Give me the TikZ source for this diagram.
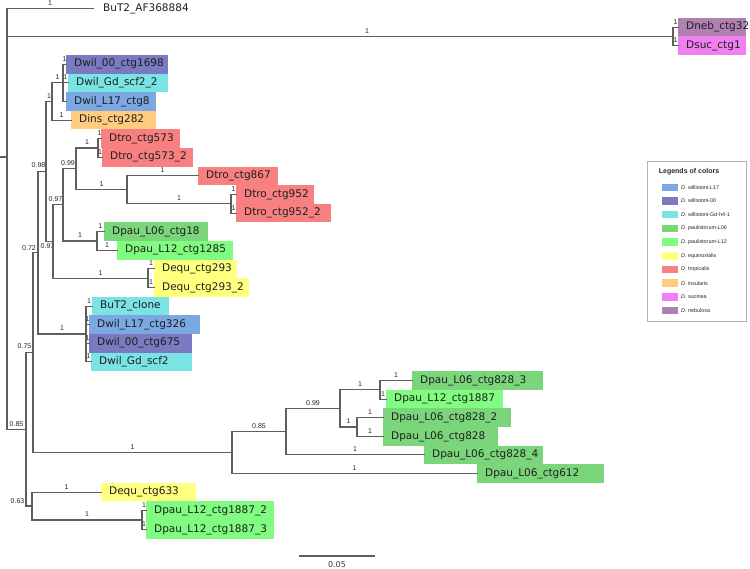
\documentclass[tikz,border=0pt]{standalone}
\usepackage{fontspec}
\setmainfont{DejaVu Sans}
\newfontfamily\labfont{Liberation Sans}
\definecolor{lnc}{RGB}{95,95,95}
\definecolor{cLse}{RGB}{123,167,227}
\definecolor{cOO}{RGB}{123,121,192}
\definecolor{cGd}{RGB}{122,228,228}
\definecolor{cLzs}{RGB}{123,214,123}
\definecolor{cLot}{RGB}{128,252,128}
\definecolor{cEqu}{RGB}{255,255,128}
\definecolor{cTro}{RGB}{248,128,128}
\definecolor{cIns}{RGB}{255,204,128}
\definecolor{cSuc}{RGB}{240,128,240}
\definecolor{cNeb}{RGB}{176,128,176}
\newcommand\lbx[2]{\makebox[#1pt][l]{\hspace{8pt}#2}}
\newcommand\brl[3]{\draw[br] (#1 |- #2) -- node[bl]{#3} (#2);}
\newcommand\brn[2]{\draw[br] (#1 |- #2) -- (#2);}
\newcommand\vtl[3]{\draw[br] (#1 |- #2) -- (#1 |- #3);}
\begin{document}
\begin{tikzpicture}[x=1pt,y=-1pt,
  br/.style={draw=lnc, line width=1.1pt, line cap=rect},
  bl/.style={above=2pt, inner sep=0.5pt, font=\labfont\fontsize{7}{8}\selectfont, text=black!85},
  lb/.style={inner sep=0pt, font=\labfont\fontsize{7}{8}\selectfont, text=black!85},
  leaf/.style={anchor=west, inner sep=0pt, minimum height=18.6pt, text height=7.7pt, text depth=2.3pt, font=\fontsize{10.5}{12}\selectfont, text=black!88},
  sw/.style={minimum width=16pt, minimum height=7.5pt, inner sep=0pt},
  lt/.style={anchor=west, inner sep=0pt, font=\labfont\fontsize{5.4}{6}\selectfont, text=black!85}]
\useasboundingbox (0,0) rectangle (750,569);

% leaves
\node[leaf] (t0) at (93,8.5) {\hspace{10pt}BuT2\_AF368884};
\node[leaf, fill=cNeb] (t1) at (678,27.1) {\lbx{68}{Dneb\_ctg32}};
\node[leaf, fill=cSuc] (t2) at (678,45.7) {\lbx{68}{Dsuc\_ctg1}};
\node[leaf, fill=cOO] (t3) at (66,64.3) {\lbx{102}{Dwil\_00\_ctg1698}};
\node[leaf, fill=cGd] (t4) at (68,82.9) {\lbx{100}{Dwil\_Gd\_scf2\_2}};
\node[leaf, fill=cLse] (t5) at (66,101.5) {\lbx{90}{Dwil\_L17\_ctg8}};
\node[leaf, fill=cIns] (t6) at (71,120.1) {\lbx{85}{Dins\_ctg282}};
\node[leaf, fill=cTro] (t7) at (101,138.7) {\lbx{79}{Dtro\_ctg573}};
\node[leaf, fill=cTro] (t8) at (102,157.3) {\lbx{91}{Dtro\_ctg573\_2}};
\node[leaf, fill=cTro] (t9) at (198,175.9) {\lbx{80}{Dtro\_ctg867}};
\node[leaf, fill=cTro] (t10) at (236,194.5) {\lbx{78}{Dtro\_ctg952}};
\node[leaf, fill=cTro] (t11) at (236,213.1) {\lbx{95}{Dtro\_ctg952\_2}};
\node[leaf, fill=cLzs] (t12) at (104,231.7) {\lbx{104}{Dpau\_L06\_ctg18}};
\node[leaf, fill=cLot] (t13) at (117,250.3) {\lbx{116}{Dpau\_L12\_ctg1285}};
\node[leaf, fill=cEqu] (t14) at (154,268.9) {\lbx{83}{Dequ\_ctg293}};
\node[leaf, fill=cEqu] (t15) at (154,287.5) {\lbx{95}{Dequ\_ctg293\_2}};
\node[leaf, fill=cGd] (t16) at (92,306.1) {\lbx{77}{BuT2\_clone}};
\node[leaf, fill=cLse] (t17) at (89,324.7) {\lbx{111}{Dwil\_L17\_ctg326}};
\node[leaf, fill=cOO] (t18) at (89,343.3) {\lbx{103}{Dwil\_00\_ctg675}};
\node[leaf, fill=cGd] (t19) at (91,361.9) {\lbx{101}{Dwil\_Gd\_scf2}};
\node[leaf, fill=cLzs] (t20) at (412,380.5) {\lbx{131}{Dpau\_L06\_ctg828\_3}};
\node[leaf, fill=cLot] (t21) at (386,399.1) {\lbx{117}{Dpau\_L12\_ctg1887}};
\node[leaf, fill=cLzs] (t22) at (383,417.7) {\lbx{128}{Dpau\_L06\_ctg828\_2}};
\node[leaf, fill=cLzs] (t23) at (383,436.3) {\lbx{115}{Dpau\_L06\_ctg828}};
\node[leaf, fill=cLzs] (t24) at (424,454.9) {\lbx{119}{Dpau\_L06\_ctg828\_4}};
\node[leaf, fill=cLzs] (t25) at (477,473.5) {\lbx{127}{Dpau\_L06\_ctg612}};
\node[leaf, fill=cEqu] (t26) at (101,492.1) {\lbx{95}{Dequ\_ctg633}};
\node[leaf, fill=cLot] (t27) at (146,510.7) {\lbx{128}{Dpau\_L12\_ctg1887\_2}};
\node[leaf, fill=cLot] (t28) at (146,529.3) {\lbx{128}{Dpau\_L12\_ctg1887\_3}};

% internal nodes
\coordinate (R0) at (0,157);
\coordinate (R) at (7,157);
\coordinate (nNS) at (673,36.4);
\coordinate (n085) at (26,429.4);
\coordinate (n075) at (33,352.7);
\coordinate (n063) at (32,506);
\coordinate (n072) at (38,252.8);
\coordinate (nP1) at (232,452.6);
\coordinate (n098) at (46,171.55);
\coordinate (nBuC) at (86,334);
\coordinate (nDwD) at (52,101.5);
\coordinate (n097b) at (53,241.6);
\coordinate (nDwil) at (63,82.9);
\coordinate (nE293) at (148,278.2);
\coordinate (n097a) at (63,204.95);
\coordinate (n099) at (76,168.9);
\coordinate (nP18) at (97,241);
\coordinate (nT573) at (98,148);
\coordinate (nT867) at (127,189.85);
\coordinate (nT952) at (231,203.8);
\coordinate (nP2) at (286,431.65);
\coordinate (nP3) at (340,408.4);
\coordinate (nP4) at (380,389.8);
\coordinate (nP5) at (357,427);
\coordinate (nP1887) at (142,520);

% root
\draw[br] (R0) -- (R);
\vtl{R}{t0.west}{n085}
\brl{R}{t0.west}{1}
\brn{R}{nNS}
\node[lb] at (367,31) {1};
\brl{R}{n085}{0.85}
% Dneb / Dsuc
\vtl{nNS}{t1.west}{t2.west}
\brl{nNS}{t1.west}{1}
\brl{nNS}{t2.west}{1}
% 0.85
\vtl{n085}{n075}{n063}
\brn{n085}{n075}
\node[lb] at (24.5,346) {0.75};
\brn{n085}{n063}
\node[lb] at (17.5,501) {0.63};
% 0.75
\vtl{n075}{n072}{nP1}
\brn{n075}{n072}
\node[lb] at (29,248) {0.72};
\brl{n075}{nP1}{1}
% 0.72
\vtl{n072}{n098}{nBuC}
\brn{n072}{n098}
\node[lb] at (38.5,165) {0.98};
\brl{n072}{nBuC}{1}
% 0.98
\vtl{n098}{nDwD}{n097b}
\brl{n098}{nDwD}{1}
\brn{n098}{n097b}
\node[lb] at (47.5,246) {0.97};
% Dwil / Dins
\vtl{nDwD}{nDwil}{t6.west}
\brl{nDwD}{nDwil}{1}
\brl{nDwD}{t6.west}{1}
\vtl{nDwil}{t3.west}{t5.west}
\brl{nDwil}{t3.west}{1}
\brl{nDwil}{t4.west}{1}
\brn{nDwil}{t5.west}
% 0.97 b
\vtl{n097b}{n097a}{nE293}
\brn{n097b}{n097a}
\node[lb] at (55.5,199) {0.97};
\brl{n097b}{nE293}{1}
% 0.97 a
\vtl{n097a}{n099}{nP18}
\brn{n097a}{n099}
\node[lb] at (68,163) {0.99};
\brl{n097a}{nP18}{1}
% Dtro
\vtl{n099}{nT573}{nT867}
\brl{n099}{nT573}{1}
\brl{n099}{nT867}{1}
\vtl{nT573}{t7.west}{t8.west}
\brl{nT573}{t7.west}{1}
\brl{nT573}{t8.west}{1}
\vtl{nT867}{t9.west}{nT952}
\brl{nT867}{t9.west}{1}
\brl{nT867}{nT952}{1}
\vtl{nT952}{t10.west}{t11.west}
\brl{nT952}{t10.west}{1}
\brl{nT952}{t11.west}{1}
% Dpau 18
\vtl{nP18}{t12.west}{t13.west}
\brl{nP18}{t12.west}{1}
\brl{nP18}{t13.west}{1}
% Dequ 293
\vtl{nE293}{t14.west}{t15.west}
\brl{nE293}{t14.west}{1}
\brl{nE293}{t15.west}{1}
% BuT2 clone
\vtl{nBuC}{t16.west}{t19.west}
\brl{nBuC}{t16.west}{1}
\brl{nBuC}{t17.west}{1}
\brl{nBuC}{t18.west}{1}
\brl{nBuC}{t19.west}{1}
% Dpau big clade
\vtl{nP1}{nP2}{t25.west}
\brl{nP1}{nP2}{0.85}
\brl{nP1}{t25.west}{1}
\vtl{nP2}{nP3}{t24.west}
\brl{nP2}{nP3}{0.99}
\brl{nP2}{t24.west}{1}
\vtl{nP3}{nP4}{nP5}
\brl{nP3}{nP4}{1}
\brl{nP3}{nP5}{1}
\vtl{nP4}{t20.west}{t21.west}
\brl{nP4}{t20.west}{1}
\brl{nP4}{t21.west}{1}
\vtl{nP5}{t22.west}{t23.west}
\brl{nP5}{t22.west}{1}
\brl{nP5}{t23.west}{1}
% 0.63
\vtl{n063}{t26.west}{nP1887}
\brl{n063}{t26.west}{1}
\brl{n063}{nP1887}{1}
\vtl{nP1887}{t27.west}{t28.west}
\brl{nP1887}{t27.west}{1}
\brl{nP1887}{t28.west}{1}

% scale bar
\coordinate (sbA) at (300,556);
\coordinate (sbB) at (374,556);
\draw[br] (sbA) -- (sbB);
\node[font=\fontsize{8}{9}\selectfont, text=black!80] (sbl) at (337,565) {0.05};

% legend
\node[draw=gray!60, line width=0.8pt, fill=white, anchor=north west, minimum width=99pt, minimum height=160pt, inner sep=0pt] (leg) at (647,161) {};
\node[font=\labfont\bfseries\fontsize{7}{8}\selectfont, text=black!85, inner sep=0pt] (legt) at (689,172) {Legends of colors};
\node[sw, fill=cLse] (s1) at (670,187.3) {};
\node[lt] (l1) at (681,187.3) {\textit{D.} willistoni-L17};
\node[sw, fill=cOO] (s2) at (670,201) {};
\node[lt] (l2) at (681,201) {\textit{D.} willistoni-00};
\node[sw, fill=cGd] (s3) at (670,214.7) {};
\node[lt] (l3) at (681,214.7) {\textit{D.} willistoni-Gd-h4-1};
\node[sw, fill=cLzs] (s4) at (670,228.4) {};
\node[lt] (l4) at (681,228.4) {\textit{D.} paulistorum-L06};
\node[sw, fill=cLot] (s5) at (670,242.1) {};
\node[lt] (l5) at (681,242.1) {\textit{D.} paulistorum-L12};
\node[sw, fill=cEqu] (s6) at (670,255.8) {};
\node[lt] (l6) at (681,255.8) {\textit{D.} equinoxialis};
\node[sw, fill=cTro] (s7) at (670,269.5) {};
\node[lt] (l7) at (681,269.5) {\textit{D.} tropicalis};
\node[sw, fill=cIns] (s8) at (670,283.2) {};
\node[lt] (l8) at (681,283.2) {\textit{D.} insularis};
\node[sw, fill=cSuc] (s9) at (670,296.9) {};
\node[lt] (l9) at (681,296.9) {\textit{D.} sucinea};
\node[sw, fill=cNeb] (s10) at (670,310.6) {};
\node[lt] (l10) at (681,310.6) {\textit{D.} nebulosa};
\end{tikzpicture}
\end{document}
